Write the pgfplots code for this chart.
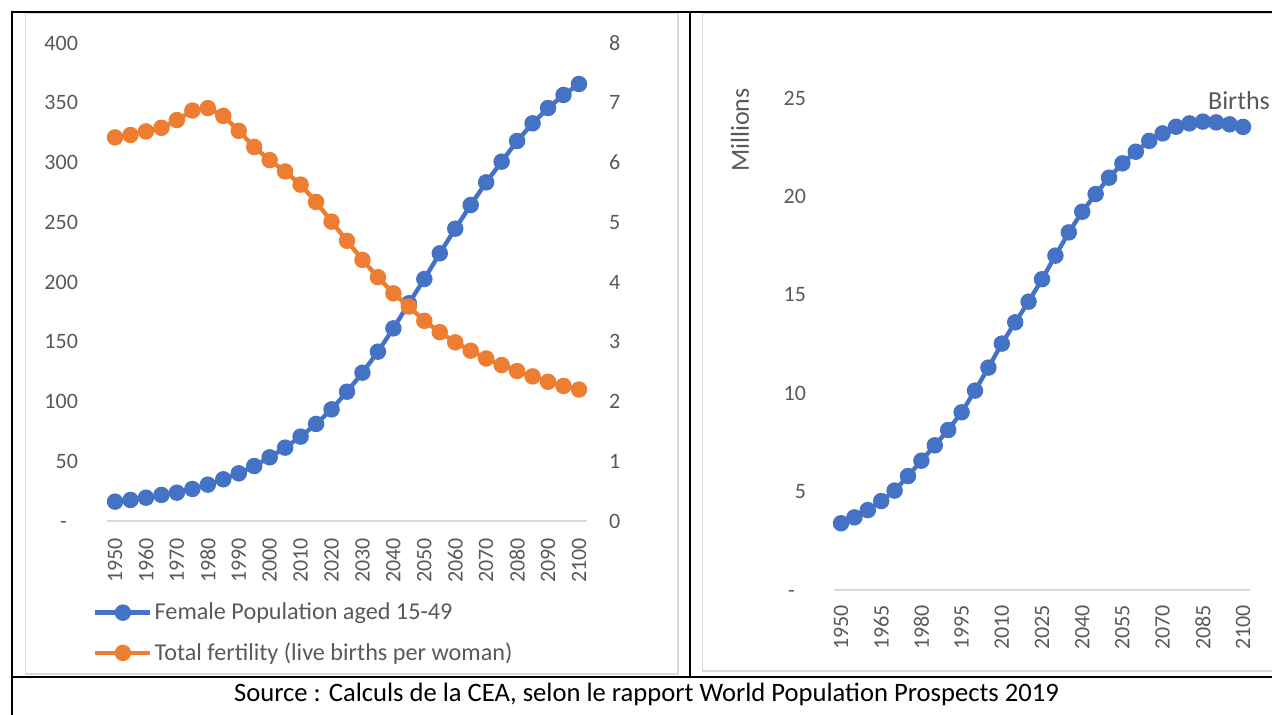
\documentclass[border=0pt]{standalone}
\usepackage{fontspec}
\setmainfont{Carlito}
\usepackage{pgfplots}
\pgfplotsset{compat=1.18}
\usepackage{pgfplotstable}
\definecolor{txt}{HTML}{595959}
\definecolor{fr}{HTML}{D9D9D9}
\definecolor{cblue}{HTML}{4472C4}
\definecolor{corange}{HTML}{ED7D31}

\pgfplotstableread{
year pop fert
1950 16.2 6.42
1955 17.6 6.46
1960 19.5 6.52
1965 21.8 6.58
1970 23.7 6.71
1975 26.8 6.87
1980 30.4 6.91
1985 34.9 6.78
1990 39.9 6.53
1995 46.0 6.26
2000 53.3 6.04
2005 61.4 5.85
2010 70.6 5.63
2015 81.2 5.34
2020 93.4 5.01
2025 108.2 4.69
2030 124.1 4.37
2035 141.7 4.08
2040 161.2 3.81
2045 182.2 3.59
2050 202.5 3.35
2055 224.0 3.16
2060 244.6 2.99
2065 264.4 2.85
2070 283.4 2.72
2075 300.7 2.61
2080 318.0 2.51
2085 332.8 2.42
2090 345.6 2.33
2095 356.5 2.26
2100 365.7 2.20
}\left

\pgfplotstableread{
year births
1950 3.39
1955 3.69
1960 4.06
1965 4.52
1970 5.05
1975 5.79
1980 6.57
1985 7.35
1990 8.13
1995 9.03
2000 10.13
2005 11.30
2010 12.52
2015 13.60
2020 14.65
2025 15.79
2030 16.99
2035 18.17
2040 19.22
2045 20.12
2050 20.95
2055 21.68
2060 22.27
2065 22.82
2070 23.20
2075 23.54
2080 23.71
2085 23.80
2090 23.76
2095 23.66
2100 23.53
}\right

\begin{document}
\begin{tikzpicture}
\path[use as bounding box] (0,0) rectangle (636pt,357.5pt);
% table borders and chart frames
\draw[fr, line width=0.75pt] (12.85pt,20.5pt) rectangle (339pt,351pt);
\draw[fr, line width=0.75pt] (351.35pt,22pt) rectangle (640pt,351pt);
\draw[black, line width=1pt] (5.5pt,351.5pt) -- (637pt,351.5pt);
\draw[black, line width=1pt] (6pt,352pt) -- (6pt,-1pt);
\draw[black, line width=1pt] (344.75pt,351.5pt) -- (344.75pt,19pt);
\draw[black, line width=1pt] (6pt,19pt) -- (637pt,19pt);
\node[font=\fontsize{13.3}{15}\selectfont, text=black] at (323.25pt,10.5pt) {Source : Calculs de la CEA, selon le rapport World Population Prospects 2019};

\pgfplotsset{
  common/.style={
    scale only axis, anchor=south west,
    xmin=1947.5, xmax=2102.5,
    tick style={draw=none}, major tick length=0pt,
    tick label style={font=\fontsize{11}{13}\selectfont, text=txt},
    /pgf/number format/assume math mode=true,
    axis line style={-},
  },
  myline/.style={line width=2.2pt, mark=*, mark size=3pt, mark options={solid}},
}

% left panel, primary axis
\begin{axis}[common,
  at={(53.65pt,97pt)}, width=239.7pt, height=239pt,
  ymin=0, ymax=400,
  axis x line*=bottom, axis y line*=left,
  x axis line style={fr, line width=0.75pt},
  y axis line style={draw=none},
  xtick={1950,1960,...,2100},
  xticklabels={1950,1960,1970,1980,1990,2000,2010,2020,2030,2040,2050,2060,2070,2080,2090,2100},
  xticklabel style={rotate=90, anchor=east, inner sep=0pt},
  xticklabel shift=8.5pt,
  ytick={0,50,...,400},
  yticklabels={-\phantom{0},50,100,150,200,250,300,350,400},
  yticklabel style={anchor=east, inner sep=0pt},
  yticklabel shift=14.5pt,
  legend style={at={(axis description cs:-0.0305,-0.166)}, anchor=north west, draw=none, fill=none,
    inner sep=0pt, row sep=8pt, font=\fontsize{12.1}{14}\selectfont, text=txt,
    nodes={inner sep=1pt}},
  legend cell align=left,
  legend image code/.code={\draw[#1, mark repeat=2, mark phase=2] plot coordinates {(0pt,0pt)(13.8pt,0pt)(27.6pt,0pt)};},
]
\addplot[cblue, myline] table[x=year, y=pop] {\left};
\addlegendentry{Female Population aged 15-49}
\addlegendimage{corange, myline}
\addlegendentry{Total fertility (live births per woman)}
\end{axis}

% left panel, secondary axis
\begin{axis}[common,
  at={(53.65pt,97pt)}, width=239.7pt, height=239pt,
  ymin=0, ymax=8,
  axis x line=none, axis y line*=right,
  y axis line style={draw=none},
  ytick={0,1,...,8},
  yticklabel style={anchor=west, inner sep=0pt},
  yticklabel shift=11pt,
]
\addplot[corange, myline] table[x=year, y=fert] {\left};
\end{axis}

% right panel
\begin{axis}[common,
  at={(417.15pt,62.5pt)}, width=207.7pt, height=246pt,
  ymin=0, ymax=25, clip=false,
  axis x line*=bottom, axis y line*=left,
  x axis line style={fr, line width=0.75pt},
  y axis line style={draw=none},
  xtick={1950,1965,...,2100},
  xticklabels={1950,1965,1980,1995,2010,2025,2040,2055,2070,2085,2100},
  xticklabel style={rotate=90, anchor=east, inner sep=0pt},
  xticklabel shift=7.5pt,
  ytick={0,5,...,25},
  yticklabels={-\phantom{0},5,10,15,20,25},
  yticklabel style={anchor=east, inner sep=0pt},
  yticklabel shift=14pt,
]
\addplot[cblue, myline] table[x=year, y=births] {\right};
\node[font=\fontsize{13}{15}\selectfont, text=txt] at (axis cs:2098.5,24.85) {Births};
\node[font=\fontsize{13}{15}\selectfont, text=txt, rotate=90] at (axis description cs:-0.227,0.935) {Millions};
\end{axis}
\end{tikzpicture}
\end{document}
